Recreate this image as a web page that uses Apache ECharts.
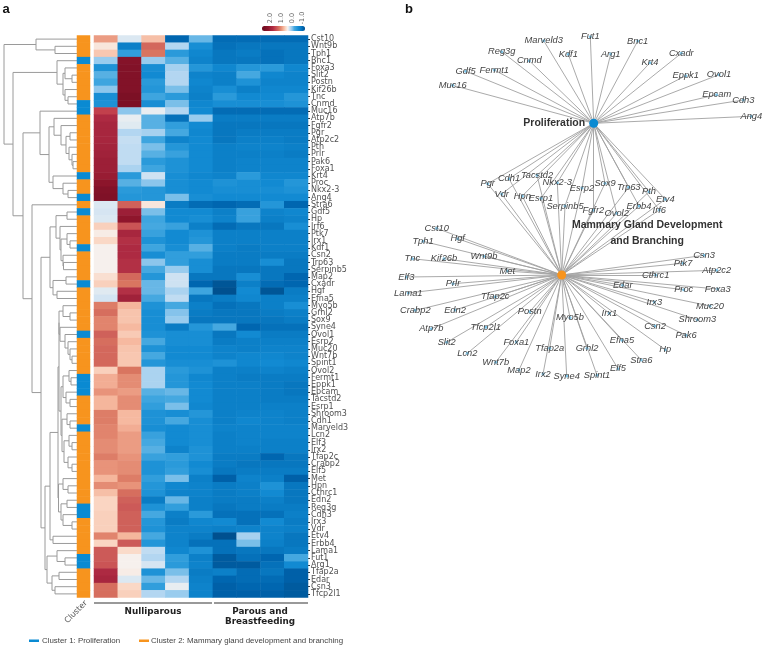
<!DOCTYPE html>
<html>
<head>
<meta charset="utf-8">
<script src="https://cdn.jsdelivr.net/npm/echarts@6/dist/echarts.min.js"></script>
<style>
html,body{margin:0;padding:0;background:#fff}
#chart{width:766px;height:647px;filter:blur(0.45px)}
</style>
</head>
<body>
<div id="chart"></div>
<script>
// ---------- heatmap data ----------
const samples = ['N1','N2','N3','N4','N5','P1','P2','P3','P4'];
const genes = ['Cst10','Wnt9b','Tph1','Bnc1','Foxa3','Slit2','Postn','Kif26b','Tnc','Cnmd','Muc16','Atp7b','Fgfr2','Pgr','Atp2c2','Pth','Prlr','Pak6','Foxa1','Krt4','Proc','Nkx2-3','Ang4','Stra6','Gdf5','Hp','Irf6','Ptk7','Irx1','Kdf1','Csn2','Trp63','Serpinb5','Map2','Cxadr','Hgf','Efna5','Myo5b','Grhl2','Sox9','Syne4','Ovol1','Esrp2','Muc20','Wnt7b','Spint1','Ovol2','Fermt1','Eppk1','Epcam','Tacstd2','Esrp1','Shroom3','Cdh1','Marveld3','Lcn2','Elf3','Irx2','Tfap2c','Crabp2','Elf5','Met','Hpn','Cthrc1','Edn2','Reg3g','Cdh3','Irx3','Vdr','Etv4','Erbb4','Lama1','Fut1','Arg1','Tfap2a','Edar','Csn3','Tfcp2l1'];
const expression = [
[.95,.3,.75,-1,-.1,-.95,-.95,-.95,-.95],
[.5,-.75,1.3,.15,-.55,-.9,-.85,-.85,-.85],
[.7,-.35,1.2,-.4,-.65,-.85,-.8,-.9,-.85],
[.05,2.35,.05,-.15,-.7,-.85,-.85,-.9,-.85],
[-.5,2.4,-.55,.1,-.45,-.65,-.45,-.4,-.65],
[-.15,2.4,-.6,.15,-.7,-.75,-.2,-.65,-.7],
[-.25,2.4,-.4,.15,-.65,-.75,-.5,-.7,-.7],
[0,2.4,-.45,-.05,-.7,-.55,-.75,-.65,-.65],
[-.55,2.5,-.25,-.4,-.75,-.4,-.6,-.6,-.45],
[-.5,2.5,-.55,-.05,-.65,-.55,-.55,-.55,-.5],
[1.6,0,.35,.15,-.6,-.95,-.95,-.95,-.95],
[1.8,.35,-.15,-.9,.05,-.8,-.8,-.8,-.8],
[1.9,.32,-.15,-.35,-.6,-.85,-.85,-.85,-.85],
[1.9,.15,.1,-.2,-.65,-.85,-.8,-.8,-.8],
[1.9,.22,-.25,-.7,-.6,-.85,-.75,-.75,-.8],
[1.95,.2,-.05,-.45,-.6,-.75,-.7,-.7,-.75],
[2,.2,-.15,-.3,-.6,-.75,-.75,-.75,-.8],
[2.05,.2,-.4,-.5,-.6,-.75,-.7,-.7,-.7],
[2.05,.12,-.25,-.5,-.6,-.75,-.7,-.7,-.7],
[2.1,-.4,.25,-.55,-.65,-.7,-.4,-.65,-.65],
[2.25,-.15,0,-.55,-.6,-.5,-.55,-.6,-.45],
[2.4,-.4,-.45,-.55,-.6,-.55,-.55,-.55,-.5],
[2.45,-.45,-.45,-.05,-.55,-.6,-.6,-.6,-.6],
[.3,1.35,.5,-.8,-.95,-1,-.95,-.45,-1],
[.28,2.05,-.05,-.6,-.6,-.75,-.3,-.7,-.65],
[.3,2.2,-.25,-.6,-.55,-.7,-.3,-.75,-.7],
[.65,1.45,-.2,-.3,-.75,-.95,-.85,-.85,-.55],
[.45,1.9,-.3,-.6,-.5,-.75,-.75,-.75,-.75],
[.6,1.75,-.5,-.6,-.45,-.75,-.75,-.75,-.75],
[.42,1.8,-.25,-.55,-.15,-.75,-.8,-.75,-.75],
[.42,1.8,-.55,-.35,-.35,-.8,-.8,-.8,-.8],
[.42,1.75,0,-.35,-.55,-.8,-.8,-.55,-.85],
[.42,1.75,-.2,.05,-.55,-.85,-.85,-.85,-.85],
[.55,1.3,-.45,.25,-.85,-.85,-.55,-.85,-1],
[.65,1.2,-.1,.25,-1,-1.15,-.75,-.95,-1],
[.32,1.75,-.1,.12,-.25,-1.25,-.6,-1.15,-.8],
[.27,2,-.2,.2,-.85,-.8,-.65,-.75,-.75],
[1.15,.8,-.5,-.2,-.75,-.9,-.85,-.75,-.55],
[1.25,.72,-.55,-.02,-.8,-.85,-.85,-.8,-.75],
[1.1,.72,-.55,.05,-.85,-.85,-.85,-.85,-.8],
[1.1,.78,-.55,-.8,-.45,-.2,-1,-.9,-.9],
[1.35,.68,-.5,-.55,-.55,-.85,-.6,-.8,-.8],
[1.25,.78,-.2,-.55,-.55,-.8,-.75,-.75,-.75],
[1.3,.72,-.5,-.6,-.6,-.7,-.75,-.7,-.7],
[1.3,.7,-.2,-.6,-.6,-.7,-.65,-.65,-.7],
[1.3,.7,-.45,-.55,-.55,-.5,-.65,-.6,-.65],
[.65,1.2,.12,-.4,-.5,-.75,-.75,-.7,-.75],
[.85,1.05,.12,-.45,-.65,-.75,-.8,-.8,-.8],
[.85,1.05,.12,-.45,-.6,-.75,-.75,-.8,-.85],
[1,.95,-.15,-.1,-.6,-.75,-.75,-.8,-.85],
[.8,1.05,-.25,-.2,-.6,-.75,-.75,-.8,-.8],
[.8,1.05,-.35,-.05,-.65,-.75,-.75,-.75,-.75],
[1.15,.78,-.5,-.55,-.45,-.75,-.7,-.7,-.75],
[1.15,.78,-.5,-.2,-.55,-.75,-.65,-.7,-.75],
[1.1,.85,-.55,-.6,-.55,-.7,-.7,-.7,-.7],
[1.1,.95,-.3,-.6,-.55,-.75,-.7,-.7,-.7],
[1.05,.95,-.2,-.6,-.55,-.75,-.7,-.75,-.75],
[1.05,.95,-.15,-.7,-.5,-.75,-.75,-.75,-.75],
[1.15,1,-.3,-.35,-.5,-.8,-.8,-1,-.85],
[1,1.05,-.5,-.4,-.6,-.8,-.85,-.85,-.85],
[1,1.05,-.5,-.35,-.55,-.85,-.8,-.8,-.8],
[.8,1.15,-.35,-.05,-.75,-1.05,-.7,-.75,-1.05],
[1.05,1,-.45,-.65,-.7,-.8,-.75,-.5,-.85],
[.75,1.25,-.5,-.7,-.7,-.8,-.75,-.6,-.85],
[.62,1.35,-.8,-.1,-.75,-.8,-.8,-.75,-.85],
[.62,1.4,-.5,-.35,-.75,-.85,-.8,-.8,-.8],
[.65,1.35,-.2,-.75,-.4,-.9,-.9,-.9,-.75],
[.65,1.35,-.45,-.8,-.65,-.6,-.9,-.6,-.8],
[.65,1.35,-.5,-.7,-.7,-.75,-.7,-.7,-.75],
[1.1,.8,-.2,-.7,-.8,-1.2,.1,-.7,-.85],
[.62,1.4,-.45,-.7,-.9,-.9,-.05,-.75,-.85],
[1.4,.58,.2,-.65,-.5,-.9,-.85,-.85,-.8],
[1.4,.42,.15,-.35,-.75,-1.1,-.9,-1,-.2],
[1.45,.42,.28,-.4,-.7,-1.1,-1.1,-.9,-.6],
[1.8,.45,-.5,-.05,-.8,-.75,-.95,-.85,-1.05],
[1.9,.3,-.1,.15,-.75,-1,-.95,-.95,-1.05],
[1.25,.6,-.35,.35,-.7,-1.05,-1,-1,-1.1],
[1.25,.65,.15,.05,-.7,-1.05,-1.05,-1.05,-1.1]
];
const proliferationRows = ['Bnc1','Cnmd','Muc16','Krt4','Ang4','Gdf5','Kdf1','Cxadr','Ovol1','Fermt1','Eppk1','Epcam','Marveld3','Reg3g','Cdh3','Fut1','Arg1'];
const colorbarTicks = ['2.0','1.0','0.0','-1.0'];

// ---------- dendrogram: [merge height, child, child] ----------
const subtreeUpper = [27,
  [21,[10,'Gdf5','Hp'],[17,'Irf6',[16,[10,'Ptk7',[7,'Irx1','Kdf1']],[14,'Csn2',[13.5,'Trp63','Serpinb5']]]]],
  [24,[11,'Map2','Cxadr'],[20,'Hgf','Efna5']]
];
const subtreeMiddle = [19,
  [18,
    [18,
      [14,'Myo5b',[7,'Grhl2','Sox9']],
      [17,'Syne4',[12,'Ovol1',[9,'Esrp2',[7,'Muc20',[5,'Wnt7b','Spint1']]]]]
    ],
    [16,
      [14,[8,'Ovol2',[6,'Fermt1','Eppk1']],[11,'Epcam',[7,'Tacstd2','Esrp1']]],
      [15,[10,'Shroom3',[7,'Cdh1','Marveld3']],[13,[8,'Lcn2',[5,'Elf3','Irx2']],[9,'Tfap2c',[5,'Crabp2','Elf5']]]]
    ]
  ],
  [18.5,[14,'Met',[9,'Hpn','Cthrc1']],[16,[10,'Edn2','Reg3g'],[14,'Cdh3',[5,'Irx3','Vdr']]]]
];
const subtreeLower = [32,
  [27,subtreeMiddle,[24,'Etv4','Erbb4']],
  [30,[20,'Lama1',[12,'Fut1','Arg1']],[25,[18,'Tfap2a','Edar'],[22,'Csn3','Tfcp2l1']]]
];
const dendrogram = [73,
  [41,'Cst10',[22,'Wnt9b','Tph1']],
  [64,
    [20,'Bnc1',[14,[12,'Foxa3',[5,'Slit2','Postn']],[12,'Kif26b',[9,'Tnc','Cnmd']]]],
    [54,
      [37,'Muc16',[28,
        [23,'Atp7b',[16,'Fgfr2',[11,[7,'Pgr','Atp2c2'],[8,'Pth',[5,'Prlr',[4,'Pak6','Foxa1']]]]]],
        [24,'Krt4',[14,'Proc',[9,'Nkx2-3','Ang4']]]
      ]],
      [45,'Stra6',[36,subtreeUpper,subtreeLower]]
    ]
  ]
];

// ---------- network ----------
const proliferationOnly = ['Muc16','Gdf5','Fermt1','Reg3g','Cnmd','Marveld3','Kdf1','Fut1','Arg1','Bnc1','Krt4','Cxadr','Eppk1','Ovol1','Epcam','Cdh3','Ang4'];
const sharedGenes = ['Pgr','Cdh1','Tacstd2','Nkx2-3','Esrp2','Sox9','Trp63','Pth','Etv4','Vdr','Hpn','Esrp1','Serpinb5','Fgfr2','Ovol2','Erbb4','Irf6'];
const mammaryOnly = ['Cst10','Hgf','Tph1','Wnt9b','Tnc','Kif26b','Met','Elf3','Prlr','Lama1','Tfap2c','Crabp2','Edn2','Postn','Myo5b','Atp7b','Tfcp2l1','Slit2','Foxa1','Lcn2','Tfap2a','Grhl2','Wnt7b','Map2','Irx2','Syne4','Spint1','Elf5','Stra6','Efna5','Irx1','Hp','Csn2','Pak6','Irx3','Shroom3','Muc20','Edar','Proc','Foxa3','Cthrc1','Atp2c2','Ptk7','Csn3'];
const HUB_A = 'Proliferation', HUB_B = 'Mammary Gland Development\nand Branching';
const nodeLayout = {
 [HUB_A]:[593.7,123.3],[HUB_B]:[561.7,275],
 Muc16:[452.7,85.3],Gdf5:[465.7,71.3],Fermt1:[494.3,70],Reg3g:[501.7,51.7],Cnmd:[529.3,60.7],Marveld3:[543.7,40.7],Kdf1:[568.3,54.3],Fut1:[590.3,36.7],Arg1:[610.7,54],Bnc1:[637.7,41],Krt4:[650,62.7],Cxadr:[681.3,53.3],Eppk1:[685.7,75.7],Ovol1:[719,74.7],Epcam:[716.7,94.7],Cdh3:[743.3,100],Ang4:[751.3,116.3],
 Pgr:[487.7,183.7],Cdh1:[509,178.7],Tacstd2:[537,175.3],'Nkx2-3':[557.3,182.7],Esrp2:[582,188],Sox9:[605,183.3],Trp63:[628.7,187.3],Pth:[649,191.7],Etv4:[665.3,199.3],Vdr:[501.7,194],Hpn:[522.3,196],Esrp1:[541,198.3],Serpinb5:[565,206],Fgfr2:[593.3,210.3],Ovol2:[616.7,213.3],Erbb4:[639,206],Irf6:[659.3,210],
 Cst10:[436.7,228.3],Hgf:[457.7,238.7],Tph1:[423,241.3],Wnt9b:[484,256.3],Tnc:[412.3,258.7],Kif26b:[444,258.7],Met:[507.3,271],Elf3:[406.3,277],Prlr:[453,283.7],Lama1:[408.3,293],Tfap2c:[495.3,296.7],Crabp2:[415.3,310.3],Edn2:[455,310],Postn:[529.7,311.7],Myo5b:[570,317.7],Atp7b:[431.3,328.7],Tfcp2l1:[485.7,327.3],Slit2:[446.7,342.3],Foxa1:[516.3,342],Lcn2:[467.3,353.3],Tfap2a:[549.7,348.3],Grhl2:[587,348.3],Wnt7b:[495.7,362.3],Map2:[519,370],Irx2:[543,374],Syne4:[566.7,376],Spint1:[597,375.3],Elf5:[618,368.7],Stra6:[641.3,360],Efna5:[622,340.3],Irx1:[609.3,313.3],Hp:[665.3,349.7],Csn2:[655,326],Pak6:[686,335.3],Irx3:[654.3,302],Shroom3:[697.3,319.7],Muc20:[710,306],Edar:[622.7,285.3],Proc:[683.7,289.7],Foxa3:[717.7,289],Cthrc1:[655.7,275],Atp2c2:[716.7,270.3],Ptk7:[683,263.3],Csn3:[704,255.3]
};

// ---------- colours ----------
const BLUE='#0a8ad2', ORANGE='#f7941e';
const scale = ['#00508f','#0066b0','#0a7cc4','#128ad2','#2a9ada','#45a8e0','#8cc6ec','#c0dcf2','#f6f3f1','#fad8c6','#f5b69c','#e8937a','#d97560','#cc5a58','#c2404c','#ad2a42','#a0223a','#8f162c','#821228','#760e22','#6e0a1e'];

// ---------- build ----------
const heatData = [];
expression.forEach((r,y)=>r.forEach((v,x)=>heatData.push([x,y,v])));
const clusterData = genes.map((g,y)=>[0,y,proliferationRows.includes(g)?1:2]);
const segments = [];
function walk(n){
  if(typeof n==='string') return {h:0,y:genes.indexOf(n)};
  const a=walk(n[1]), b=walk(n[2]);
  segments.push([a.h,a.y,b.h,b.y,n[0]]);
  return {h:n[0],y:(a.y+b.y)/2};
}
walk(dendrogram);
const nodes=[
  {name:HUB_A,value:nodeLayout[HUB_A],symbolSize:9,itemStyle:{color:BLUE},
   label:{show:true,position:'left',distance:4,fontStyle:'normal',fontWeight:'bold',fontSize:10.5,color:'#333'}},
  {name:HUB_B,value:nodeLayout[HUB_B],symbolSize:9,itemStyle:{color:ORANGE},
   label:{show:true,position:[90,-37],lineHeight:16,align:'center',verticalAlign:'middle',fontStyle:'normal',fontWeight:'bold',fontSize:10.5,color:'#333'}}
];
[...proliferationOnly,...sharedGenes,...mammaryOnly].forEach(g=>nodes.push({name:g,value:nodeLayout[g]}));
const links=[];
proliferationOnly.concat(sharedGenes).forEach(g=>links.push({source:g,target:HUB_A}));
sharedGenes.concat(mammaryOnly).forEach(g=>links.push({source:g,target:HUB_B}));

const T='Liberation Sans';
const txt=(text,x,y,style,extra)=>Object.assign({type:'text',x,y,silent:true,style:Object.assign({text,fill:'#333',font:`9px "${T}"`,align:'center',verticalAlign:'middle'},style)},extra||{});
const ln=(x1,x2,y)=>({type:'line',silent:true,shape:{x1,y1:y,x2,y2:y},style:{stroke:'#777',lineWidth:1.4}});
const tickX=[270,281,292,302];

const option={
  animation:false,
  backgroundColor:'#fff',
  textStyle:{fontFamily:T},
  grid:[
    {left:3,width:74,top:35.5,height:562},
    {left:77,width:13,top:35.5,height:562},
    {left:94,width:214,top:35.5,height:562},
    {left:0,top:0,width:766,height:647}
  ],
  xAxis:[
    {gridIndex:0,type:'value',min:0,max:74,inverse:true,show:false},
    {gridIndex:1,type:'category',data:['Cluster'],show:false},
    {gridIndex:2,type:'category',data:samples,show:false},
    {gridIndex:3,type:'value',min:0,max:766,show:false}
  ],
  yAxis:[
    {gridIndex:0,type:'value',min:-.5,max:77.5,inverse:true,show:false},
    {gridIndex:1,type:'category',data:genes,inverse:true,show:false},
    {gridIndex:2,type:'category',data:genes,inverse:true,position:'right',
     axisLine:{show:false},splitLine:{show:false},
     axisTick:{show:true,length:2,alignWithLabel:true,lineStyle:{color:'#333',width:1}},
     axisLabel:{show:true,interval:0,fontSize:8,margin:3,color:'#505050',fontFamily:'DejaVu Sans'}},
    {gridIndex:3,type:'value',min:0,max:647,inverse:true,show:false}
  ],
  visualMap:[
    {type:'continuous',seriesIndex:2,min:-1.2,max:2.8,orient:'horizontal',inverse:true,
     left:262,top:26,itemWidth:5,itemHeight:43,calculable:false,text:null,padding:0,showLabel:false,
     inRange:{color:scale}},
    {type:'piecewise',seriesIndex:1,show:false,dimension:2,
     pieces:[{value:1,color:BLUE},{value:2,color:ORANGE}]}
  ],
  series:[
    {type:'custom',xAxisIndex:0,yAxisIndex:0,silent:true,clip:false,
     data:segments,
     encode:{x:[0,2,4],y:[1,3]},
     renderItem:(p,api)=>{
       const [h1,y1,h2,y2,h]=[0,1,2,3,4].map(i=>api.value(i));
       const pts=[[h1,y1],[h,y1],[h,y2],[h2,y2]].map(c=>api.coord(c));
       return {type:'polyline',shape:{points:pts},style:{stroke:'#9a9a9a',lineWidth:1,fill:null}};
     }},
    {type:'heatmap',xAxisIndex:1,yAxisIndex:1,silent:true,data:clusterData,progressive:0,emphasis:{disabled:true}},
    {type:'heatmap',xAxisIndex:2,yAxisIndex:2,silent:true,data:heatData,progressive:0,emphasis:{disabled:true}},
    {type:'graph',coordinateSystem:'cartesian2d',xAxisIndex:3,yAxisIndex:3,layout:'none',silent:true,
     symbolSize:3,itemStyle:{color:'#7fc8ec'},
     lineStyle:{color:'#a0a0a0',width:.9,opacity:1,curveness:0},
     label:{show:true,position:'inside',fontSize:9.3,fontStyle:'italic',color:'#444',fontFamily:T,formatter:'{b}'},
     labelLayout:{hideOverlap:false},
     data:nodes,links}
  ],
  graphic:[
    txt('a',6,9,{font:`bold 13px "${T}"`,fill:'#111'}),
    txt('b',409,9,{font:`bold 13px "${T}"`,fill:'#111'}),
    ...colorbarTicks.map((t,i)=>txt(t,tickX[i],18,{font:`6.5px "DejaVu Sans"`,fill:'#666'},{rotation:Math.PI/2})),
    ln(94,212,603),ln(214,308,603),
    txt('Nulliparous',153,612,{font:`bold 8.8px "DejaVu Sans"`,fill:'#222'}),
    txt('Parous and',260,612,{font:`bold 8.8px "DejaVu Sans"`,fill:'#222'}),
    txt('Breastfeeding',260,621.5,{font:`bold 8.8px "DejaVu Sans"`,fill:'#222'}),
    txt('Cluster',76,612,{font:`8px "DejaVu Sans"`,fill:'#555'},{rotation:Math.PI/4}),
    {type:'rect',silent:true,shape:{x:29,y:639.5,width:10,height:2.5},style:{fill:BLUE}},
    txt('Cluster 1: Proliferation',42,640.7,{font:`7.9px "${T}"`,align:'left',fill:'#444'}),
    {type:'rect',silent:true,shape:{x:139,y:639.5,width:10,height:2.5},style:{fill:ORANGE}},
    txt('Cluster 2: Mammary gland development and branching',151,640.7,{font:`7.9px "${T}"`,align:'left',fill:'#444'})
  ]
};
echarts.init(document.getElementById('chart'),null,{renderer:'canvas'}).setOption(option);
</script>
</body>
</html>
